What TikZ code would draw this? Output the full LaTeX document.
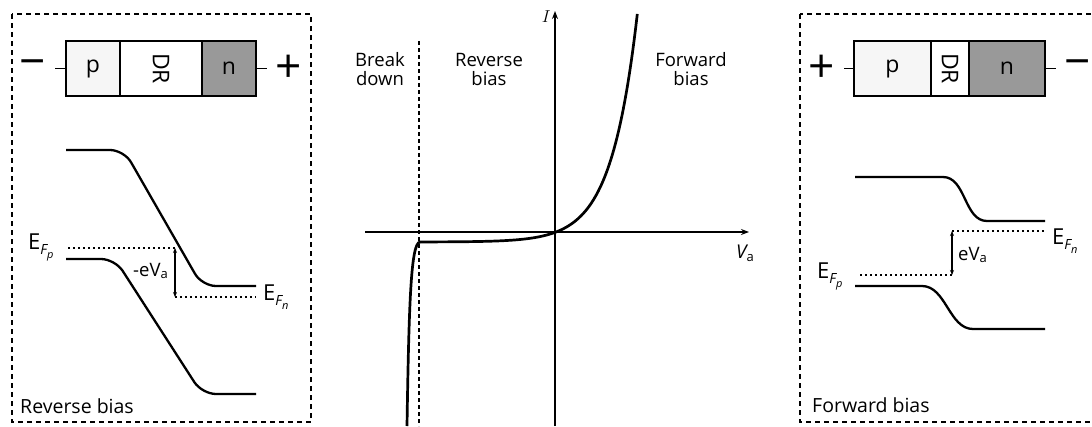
\documentclass[tikz,border=0pt]{standalone}
\usepackage{fontspec}
\setmainfont{Open Sans}
\usetikzlibrary{arrows.meta}
\definecolor{pfill}{RGB}{246,246,246}
\definecolor{nfill}{RGB}{153,153,153}
\newcommand\EFsub[1]{E\raisebox{-0.5ex}{\fontsize{14}{14}\selectfont\itshape F\raisebox{-0.5ex}{\fontsize{11}{11}\selectfont #1}}}
\begin{document}
\begin{tikzpicture}[x=1pt,y=-1pt,
  frame/.style={draw, line width=1.3pt, dash pattern=on 5pt off 4pt},
  band/.style={line width=2.3pt},
  fermi/.style={line width=1.8pt, dash pattern=on 1.8pt off 3.2pt},
  cell/.style={draw, line width=1.5pt, minimum height=55pt, inner sep=0pt, outer sep=0pt, font=\fontsize{23}{23}\selectfont},
  lead/.style={line width=1.4pt},
  sign/.style={font=\fontsize{46}{46}\selectfont, inner sep=0pt},
  axis/.style={line width=1.3pt, -{Stealth[length=8pt,width=6pt]}},
  dbl/.style={line width=1.1pt, {Stealth[length=5pt,width=4pt]}-{Stealth[length=5pt,width=4pt]}},
  lbl/.style={inner sep=0pt, font=\fontsize{18.5}{20}\selectfont},
  big/.style={inner sep=0pt, font=\fontsize{22}{22}\selectfont},
  ivcurve/.style={line width=2.7pt},
  bdline/.style={line width=1.2pt, dash pattern=on 4pt off 3pt}
]
\useasboundingbox (0,0) rectangle (1092,426);

% ---------- Left panel: reverse bias ----------
\draw[frame] (12,14) rectangle (311,422);
\node[cell, fill=pfill, minimum width=54pt] (lp) at (93,68.5) {p};
\node[cell, fill=white, minimum width=82pt] (ldr) at (161,68.5) {\rotatebox{-90}{DR}};
\node[cell, fill=nfill, minimum width=54pt] (ln) at (229,68.5) {n};
\coordinate (llead) at (55,68.5);
\coordinate (rlead) at (267,68.5);
\draw[lead] (llead) -- (lp.west);
\draw[lead] (ln.east) -- (rlead);
\node[sign] (lminus) at (33,69) {−};
\node[sign] (lplus) at (289,69) {+};

\draw[band, rounded corners=14pt] (66,150) -- (124,150) -- (202,286) -- (256,286);
\draw[band, rounded corners=14pt] (66,259) -- (115,259) -- (202,394) -- (256,394);
\coordinate (lfp0) at (68,248);
\coordinate (lfp1) at (175,248);
\coordinate (lfn0) at (175,297);
\coordinate (lfn1) at (256,297);
\draw[fermi] (lfp0) -- (lfp1);
\draw[fermi] (lfn0) -- (lfn1);
\draw[dbl] (lfp1) -- (lfn0);
\node[big, anchor=base west] (lEFp) at (28,249) {\EFsub{p}};
\node[big, anchor=base west] (lEFn) at (263,300) {\EFsub{n}};
\node[lbl, anchor=base west] (lev) at (133,276) {-eV\raisebox{-0.3ex}{\fontsize{13}{13}\selectfont a}};
\node[lbl, anchor=base west, font=\fontsize{19.5}{20}\selectfont] (ltitle) at (20,413) {Reverse bias};

% ---------- Middle: I-V curve ----------
\coordinate (xa0) at (365,232);
\coordinate (xa1) at (749,232);
\coordinate (ya0) at (555,426);
\coordinate (ya1) at (555,11);
\draw[axis] (xa0) -- (xa1);
\draw[axis] (ya0) -- (ya1);
\coordinate (bd0) at (419,41);
\coordinate (bd1) at (419,426);
\draw[bdline] (bd0) -- (bd1);
\draw[ivcurve] (407,426) .. controls (409,300) and (411,243) .. (420,242)
  -- plot[domain=-136:81.3, samples=140] ({556+\x},{232-10*(exp(\x/26)-1)});
\node[inner sep=0pt, anchor=base east, font=\fontsize{17}{17}\selectfont] (Ilbl) at (551,22) {$I$};
\node[lbl, anchor=base west, font=\fontsize{19}{19}\selectfont] (Valbl) at (736,258) {\itshape V\raisebox{-0.3ex}{\upshape\fontsize{13}{13}\selectfont a}};
\node[lbl, anchor=base] (bk1) at (380,66) {Break};
\node[lbl, anchor=base] (bk2) at (380,85) {down};
\node[lbl, anchor=base] (rb1) at (489,66) {Reverse};
\node[lbl, anchor=base] (rb2) at (489,85) {bias};
\node[lbl, anchor=base] (fb1) at (691,66) {Forward};
\node[lbl, anchor=base] (fb2) at (691,85) {bias};

% ---------- Right panel: forward bias ----------
\draw[frame] (800,14) rectangle (1100,422);
\node[cell, fill=pfill, minimum width=77pt] (rp) at (892.5,68.5) {p};
\node[cell, fill=white, minimum width=38pt] (rdr) at (950,68.5) {\rotatebox{-90}{DR}};
\node[cell, fill=nfill, minimum width=76pt] (rn) at (1007,68.5) {n};
\coordinate (rllead) at (844,68.5);
\coordinate (rrlead) at (1056,68.5);
\draw[lead] (rllead) -- (rp.west);
\draw[lead] (rn.east) -- (rrlead);
\node[sign] (rplus) at (822,69) {+};
\node[sign] (rminus) at (1078,69) {−};

\draw[band] (855,177) -- (943,177) .. controls (966,177) and (964,221) .. (987,221) -- (1045,221);
\draw[band] (855,286) -- (922,286) .. controls (946,286) and (949,329) .. (973,329) -- (1045,329);
\coordinate (rfp0) at (860,275);
\coordinate (rfp1) at (952,275);
\coordinate (rfn0) at (952,231);
\coordinate (rfn1) at (1045,231);
\draw[fermi] (rfp0) -- (rfp1);
\draw[fermi] (rfn0) -- (rfn1);
\draw[dbl] (rfn0) -- (rfp1);
\node[big, anchor=base west] (rEFp) at (817,278) {\EFsub{p}};
\node[big, anchor=base west] (rEFn) at (1052,244) {\EFsub{n}};
\node[lbl, anchor=base west] (rev) at (958,260) {eV\raisebox{-0.3ex}{\fontsize{13}{13}\selectfont a}};
\node[lbl, anchor=base west, font=\fontsize{19.5}{20}\selectfont] (rtitle) at (812,412) {Forward bias};
\end{tikzpicture}
\end{document}
